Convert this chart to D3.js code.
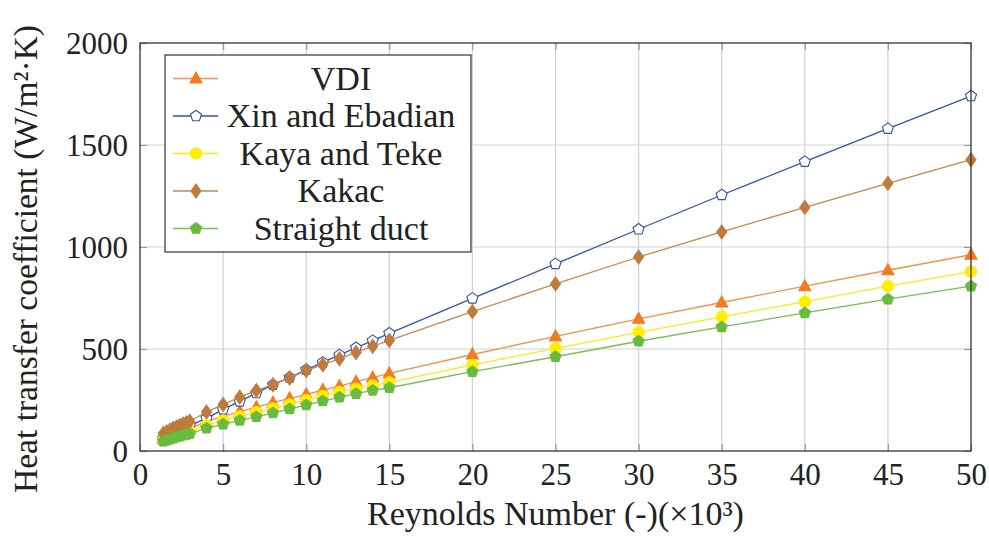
<!DOCTYPE html>
<html>
<head>
<meta charset="utf-8">
<script src="https://cdn.jsdelivr.net/npm/d3@7"></script>
<style>
  body { margin: 0; background: #fff; }
  text { font-family: "Liberation Serif", "Times New Roman", serif; fill: #222; }
</style>
</head>
<body>
<div id="the_chart"></div>
<script>
// Reynolds number (x1000)
var reynolds = [1.4,1.6,1.8,2.0,2.2,2.4,2.6,2.8,3.0,4,5,6,7,8,9,10,11,12,13,14,15,20,25,30,35,40,45,50];

var vdi      = [58,65,71,78,84,90,96,102,110,145,170,193,215,237,258,278,299,318,340,360,380,473,562,648,728,808,886,962];
var xin      = [62,70,78,86,94,102,110,118,126,160,204,243,284,325,360,398,434,471,506,541,577,748,917,1087,1255,1418,1580,1740];
var kaya     = [53,58,64,70,75,80,86,91,96,126,150,170,190,209,229,250,270,290,306,321,336,422,503,582,658,732,808,879];
var kakac    = [86,94,102,110,118,125,132,139,146,191,228,264,296,325,358,394,423,452,483,513,542,683,819,951,1074,1194,1312,1428];
var straight = [48,53,58,63,68,72,77,81,86,111,131,150,168,186,206,225,245,263,281,297,310,389,462,538,608,677,744,808];

var seriesNames = ["VDI", "Xin and Ebadian", "Kaya and Teke", "Kakac", "Straight duct"];
var xTicks = [0,5,10,15,20,25,30,35,40,45,50];
var yTicks = [0,500,1000,1500,2000];

gen_graph();

function gen_graph() {
  var w = 989, h = 541;
  var padL = 140, padR = 971, padT = 43, padB = 451;

  var series = [
    {name: seriesNames[0], values: vdi,      line: "#f6914a", fill: "#f47a20", stroke: "#f47a20", mark: "triangle"},
    {name: seriesNames[1], values: xin,      line: "#3352b0", fill: "#ffffff", stroke: "#3352b0", mark: "pentagon"},
    {name: seriesNames[2], values: kaya,     line: "#ffe81a", fill: "#ffee00", stroke: "#ffee00", mark: "circle"},
    {name: seriesNames[3], values: kakac,    line: "#c8884a", fill: "#c07b3c", stroke: "#c07b3c", mark: "diamond"},
    {name: seriesNames[4], values: straight, line: "#74c050", fill: "#69bb40", stroke: "#69bb40", mark: "pentagon"}
  ];

  function markPath(type) {
    var p = d3.path();
    if (type === "triangle") {
      p.moveTo(0,-6.5); p.lineTo(6,4.5); p.lineTo(-6,4.5); p.closePath();
    } else if (type === "diamond") {
      p.moveTo(0,-7); p.lineTo(5,0); p.lineTo(0,7); p.lineTo(-5,0); p.closePath();
    } else if (type === "pentagon") {
      for (var k = 0; k < 5; k++) {
        var a = -Math.PI/2 + k*2*Math.PI/5;
        if (k === 0) p.moveTo(5.8*Math.cos(a), 5.8*Math.sin(a));
        else p.lineTo(5.8*Math.cos(a), 5.8*Math.sin(a));
      }
      p.closePath();
    } else {
      p.arc(0,0,5.6,0,2*Math.PI);
    }
    return p.toString();
  }

  var xscale = d3.scaleLinear().domain([0,50]).range([padL,padR]);
  var yscale = d3.scaleLinear().domain([0,2000]).range([padB,padT]);

  var svg = d3.select("#the_chart").append("svg")
    .attr("width", w).attr("height", h);

  // grid
  svg.append("g").selectAll("line").data(xTicks.slice(1, -1)).enter().append("line")
    .attr("x1", function(d){ return xscale(d); }).attr("x2", function(d){ return xscale(d); })
    .attr("y1", padT).attr("y2", padB)
    .style("stroke", "#d2d2d2").style("stroke-width", "1.2px");
  svg.append("g").selectAll("line").data(yTicks.slice(1, -1)).enter().append("line")
    .attr("y1", function(d){ return yscale(d); }).attr("y2", function(d){ return yscale(d); })
    .attr("x1", padL).attr("x2", padR)
    .style("stroke", "#d2d2d2").style("stroke-width", "1.2px");

  // axes with inward ticks
  var fmt = d3.format("d");
  var xAxis = d3.axisBottom(xscale).tickValues(xTicks).tickSize(-7).tickPadding(12).tickFormat(fmt);
  var yAxis = d3.axisLeft(yscale).tickValues(yTicks).tickSize(-7).tickPadding(12).tickFormat(fmt);
  var xTop = d3.axisTop(xscale).tickValues(xTicks).tickSize(-7).tickFormat("");
  var yRight = d3.axisRight(yscale).tickValues(yTicks).tickSize(-7).tickFormat("");

  var gx = svg.append("g").attr("transform", "translate(0," + padB + ")").call(xAxis);
  var gy = svg.append("g").attr("transform", "translate(" + padL + ",0)").call(yAxis);
  var gt = svg.append("g").attr("transform", "translate(0," + padT + ")").call(xTop);
  var gr = svg.append("g").attr("transform", "translate(" + padR + ",0)").call(yRight);

  [gx, gy, gt, gr].forEach(function(g) {
    g.select(".domain").remove();
    g.selectAll(".tick line").style("stroke", "#999").style("stroke-width", "1.2px");
    g.selectAll(".tick text").style("font-size", "31px").style("fill", "#222")
      .style("font-family", "'Liberation Serif', serif");
  });
  gx.selectAll(".tick text").attr("dy", "0.72em");
  gy.selectAll(".tick text").attr("dy", "0.34em");

  // series
  var line = d3.line()
    .x(function(d){ return xscale(d[0]); })
    .y(function(d){ return yscale(d[1]); });

  series.forEach(function(s) {
    var pts = reynolds.map(function(r, i){ return [r, s.values[i]]; });
    svg.append("path").datum(pts)
      .attr("d", line)
      .style("fill", "none").style("stroke", s.line).style("stroke-width", "1.3px");
    svg.append("g").selectAll("path").data(pts).enter().append("path")
      .attr("d", markPath(s.mark))
      .attr("transform", function(d){ return "translate(" + xscale(d[0]) + "," + yscale(d[1]) + ")"; })
      .style("fill", s.fill).style("stroke", s.stroke).style("stroke-width", "1.1px");
  });

  // frame
  svg.append("rect")
    .attr("x", padL).attr("y", padT).attr("width", padR - padL).attr("height", padB - padT)
    .style("fill", "none").style("stroke", "#333").style("stroke-width", "1.3px");

  // legend
  var legend = svg.append("g");
  legend.append("rect")
    .attr("x", 165).attr("y", 55).attr("width", 306).attr("height", 197)
    .style("fill", "#fff").style("stroke", "#333").style("stroke-width", "1.2px");

  series.forEach(function(s, i) {
    var ly = 78.5 + i * 37.5;
    legend.append("line")
      .attr("x1", 173).attr("x2", 218).attr("y1", ly).attr("y2", ly)
      .style("stroke", s.line).style("stroke-width", "1.3px");
    legend.append("path")
      .attr("d", markPath(s.mark))
      .attr("transform", "translate(196," + ly + ")")
      .style("fill", s.fill).style("stroke", s.stroke).style("stroke-width", "1.1px");
    legend.append("text")
      .attr("x", 341).attr("y", ly + 11)
      .attr("text-anchor", "middle")
      .style("font-size", "34px")
      .text(s.name);
  });

  // axis labels
  svg.append("text")
    .attr("x", (padL + padR) / 2).attr("y", 525)
    .attr("text-anchor", "middle")
    .style("font-size", "34px")
    .text("Reynolds Number (-)(×10³)");

  svg.append("text")
    .attr("transform", "translate(37,259) rotate(-90)")
    .attr("text-anchor", "middle")
    .style("font-size", "33.5px")
    .text("Heat transfer coefficient (W/m²·K)");
}
</script>
</body>
</html>
